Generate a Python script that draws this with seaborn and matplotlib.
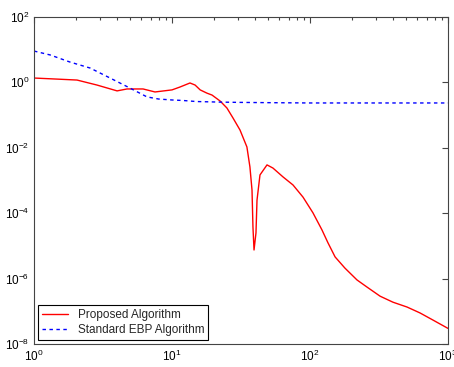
import numpy as np
import pandas as pd
import seaborn as sns
import matplotlib.pyplot as plt
from matplotlib.ticker import LogLocator, NullLocator

sns.set_style("white")
plt.rcParams['font.family'] = ['Liberation Sans', 'DejaVu Sans']
plt.rcParams['mathtext.fontset'] = 'custom'
plt.rcParams['mathtext.rm'] = 'Liberation Sans'

# Proposed Algorithm (red, solid)
prop_x = [1.0, 1.42, 2.05, 2.86, 4.0, 4.72, 6.17, 7.53, 10.0, 11.4, 13.5, 14.7,
          16.0, 17.9, 19.5, 22.3, 25.0, 27.7, 31.1, 34.9, 36.7, 38.0, 38.6, 39.3,
          40.6, 41.3, 43.4, 48.8, 53.9, 63.7, 75.3, 89.0, 105, 122, 135, 152, 179,
          219, 259, 322, 399, 505, 627, 778, 1000]
prop_y = [1.36, 1.27, 1.18, 0.83, 0.55, 0.63, 0.63, 0.51, 0.59, 0.72, 0.96, 0.83,
          0.59, 0.47, 0.41, 0.27, 0.165, 0.081, 0.035, 0.0106, 2.6e-3, 5.1e-4, 3.8e-5, 7.5e-6,
          2.5e-5, 2.5e-4, 1.48e-3, 3.0e-3, 2.4e-3, 1.29e-3, 7.3e-4, 3.1e-4, 1.03e-4, 3.1e-5,
          1.24e-5, 4.6e-6, 2.1e-6, 9.1e-7, 5.5e-7, 2.9e-7, 1.9e-7, 1.35e-7, 8.9e-8,
          5.4e-8, 3.0e-8]

# Standard EBP Algorithm (blue, dashed)
ebp_x = [1, 1.31, 1.82, 2.55, 3.56, 4.96, 6.59, 8, 10, 12, 15, 22, 30, 50, 100, 1000]
ebp_y = [9.1, 6.9, 4.2, 2.75, 1.36, 0.67, 0.36, 0.31, 0.29, 0.28, 0.26,
         0.25, 0.245, 0.24, 0.235, 0.235]

prop = pd.DataFrame({'x': prop_x, 'y': prop_y})
ebp = pd.DataFrame({'x': ebp_x, 'y': ebp_y})

fig = plt.figure(figsize=(4.54, 3.67), dpi=100)
ax = fig.add_axes([34 / 454, 1 - 344 / 367, 414 / 454, 327 / 367])

sns.lineplot(data=prop, x='x', y='y', ax=ax, color='red', linewidth=1.0,
             estimator=None, sort=False, label='Proposed Algorithm')
sns.lineplot(data=ebp, x='x', y='y', ax=ax, color='blue', linewidth=1.0,
             estimator=None, sort=False, linestyle=(0, (2.5, 2.5)),
             label='Standard EBP Algorithm')

ax.set_xscale('log')
ax.set_yscale('log')
ax.set_xlim(1, 1000)
ax.set_ylim(1e-8, 1e2)
ax.set_xlabel('')
ax.set_ylabel('')

ax.xaxis.set_major_locator(LogLocator(base=10, numticks=10))
ax.xaxis.set_minor_locator(LogLocator(base=10, subs=np.arange(2, 10), numticks=20))
ax.set_yticks([1e-8, 1e-6, 1e-4, 1e-2, 1e0, 1e2])
ax.yaxis.set_minor_locator(NullLocator())

for s in ax.spines.values():
    s.set_color('#444444')
    s.set_linewidth(0.8)
ax.tick_params(which='both', direction='in', top=True, right=True,
               colors='#444444', labelcolor='black', labelsize=8.5)
ax.tick_params(which='major', length=4, width=0.8)
ax.tick_params(which='minor', length=2.5, width=0.8)

leg = ax.legend(loc='lower left', fontsize=8.5, fancybox=False, framealpha=1,
                edgecolor='black', borderaxespad=0.35, handlelength=2.2,
                labelspacing=0.25, borderpad=0.35)
leg.get_frame().set_linewidth(0.8)

fig.savefig('out.png', dpi=100, facecolor='white')
